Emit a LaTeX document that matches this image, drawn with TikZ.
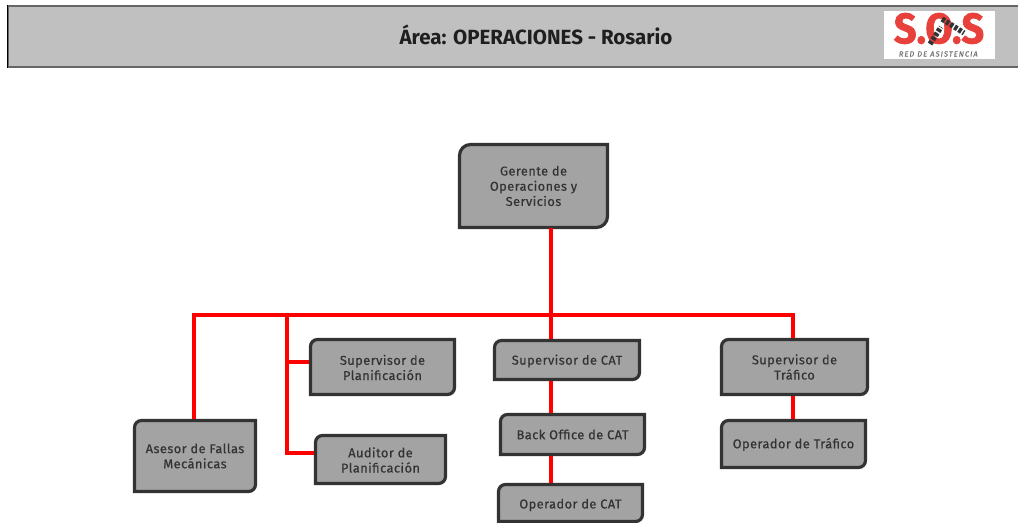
\documentclass[tikz,border=0pt]{standalone}
\usepackage{fontspec}
\setmainfont{Fira Sans}
\newfontfamily\boxfont[LetterSpace=3.5,FakeBold=0.5]{Fira Sans}
\newfontfamily\redfont[LetterSpace=14,FakeSlant=0.15,FakeBold=0.3]{Fira Sans}
\newfontfamily\sosfont[FakeBold=1.5]{Fira Sans Bold}
\definecolor{boxgray}{HTML}{A3A3A3}
\definecolor{edge}{HTML}{333333}
\definecolor{headgray}{HTML}{C0C0C0}
\definecolor{txt}{HTML}{333333}
\definecolor{sosred}{HTML}{E8403A}
\tikzset{
  x=0.75pt,y=-0.75pt,
  link/.style={draw=red,line width=3pt,line join=miter},
  lbl/.style={inner sep=0pt,align=center,font=\boxfont\fontsize{9.6}{11.4}\selectfont,text=txt},
  tyre/.style={draw=black!80,line width=4pt,dash pattern=on 2.5pt off 1.2pt},
}
\def\boxr{8}
% [label shift], name, x1,y1,x2,y2, text (outer edge coordinates in px)
\newcommand{\orgbox}[7][0]{%
  \draw[draw=edge,fill=boxgray,line width=2.4pt]
    (#3+1.5,#4+1.5+\boxr) arc[start angle=180,end angle=90,radius=\boxr*0.75pt]
    -- (#5-1.5,#4+1.5) -- (#5-1.5,#6-1.5-\boxr)
    arc[start angle=0,end angle=-90,radius=\boxr*0.75pt]
    -- (#3+1.5,#6-1.5) -- cycle;
  \node[lbl] (#2) at (0.5*#3+0.5*#5,0.5*#4+0.5*#6+#1) {#7};
}
\begin{document}
\begin{tikzpicture}
\useasboundingbox (0,0) rectangle (1018,523);
\begin{scope}
\clip (0,0) rectangle (1018,523);
% header
\node[draw=black!60,fill=headgray,line width=1.3pt,minimum width=1010*0.75pt,minimum height=61*0.75pt,inner sep=0pt,anchor=north west] (head) at (7.5,5) {};
\draw[black,line width=1.2pt] (head.north west) -- (head.south west);
\node[font=\bfseries\fontsize{15.4}{18}\selectfont,text=black!88,inner sep=0pt] (title) at (536,34.5) {Área: OPERACIONES - Rosario};
% logo
\node[fill=white,minimum width=111*0.75pt,minimum height=48*0.75pt,inner sep=0pt,anchor=north west] (logo) at (884,11) {};
\node[font=\sosfont\fontsize{32}{33}\selectfont,text=sosred,inner sep=0pt,xscale=0.93,transform shape] (sos) at (939,28.5) {S.O.S};
\node[font=\redfont\fontsize{5.6}{6}\selectfont,text=black!55,inner sep=0pt] (red) at (938,54) {RED DE ASISTENCIA};
\draw[tyre] (930,44) -- (941,27);
\draw[tyre] (942,19) -- (964,33);
% boxes
\def\boxr{11}
\orgbox{ger}{458}{143}{609}{229}{Gerente de\\Operaciones y\\Servicios}
\def\boxr{7}
\orgbox[0.5]{plan}{309}{338}{456}{396}{Supervisor de\\Planificación}
\orgbox[0.5]{aud}{314}{434}{447}{485}{Auditor de\\Planificación}
\orgbox{ase}{133}{419}{257}{493}{Asesor de Fallas\\Mecánicas}
\orgbox[1]{cat}{493}{339}{641}{381}{Supervisor de CAT}
\orgbox{back}{499}{413}{646}{456}{Back Office de CAT}
\orgbox[2]{opc}{497}{483}{644}{523}{Operador de CAT}
\orgbox{tra}{720}{338}{869}{396}{Supervisor de\\Tráfico}
\orgbox[0.5]{opt}{720}{419}{867}{469}{Operador de Tráfico}
% connectors
\coordinate (busL) at (194,315);
\coordinate (busM) at (287,315);
\coordinate (busC) at (551,315);
\coordinate (busR) at (793,315);
\coordinate (gerB) at (551,228);
\coordinate (catT) at (551,339);
\coordinate (catB) at (551,381);
\coordinate (backT) at (551,413);
\coordinate (backB) at (551,456);
\coordinate (opcT) at (551,483);
\coordinate (traT) at (793,338);
\coordinate (traB) at (793,396);
\coordinate (optT) at (793,419);
\coordinate (aseT) at (194,419);
\coordinate (planL) at (309,362);
\coordinate (planJ) at (287,362);
\coordinate (audL) at (314,453);
\coordinate (audJ) at (287,453);
\draw[link] (gerB) -- (busC);
\draw[link] (aseT) -- (busL) -- (busR) -- (traT);
\draw[link] (busC) -- (catT);
\draw[link] (busM) -- (audJ) -- (audL);
\draw[link] (planJ) -- (planL);
\draw[link] (catB) -- (backT);
\draw[link] (backB) -- (opcT);
\draw[link] (traB) -- (optT);
\end{scope}
\end{tikzpicture}
\end{document}
